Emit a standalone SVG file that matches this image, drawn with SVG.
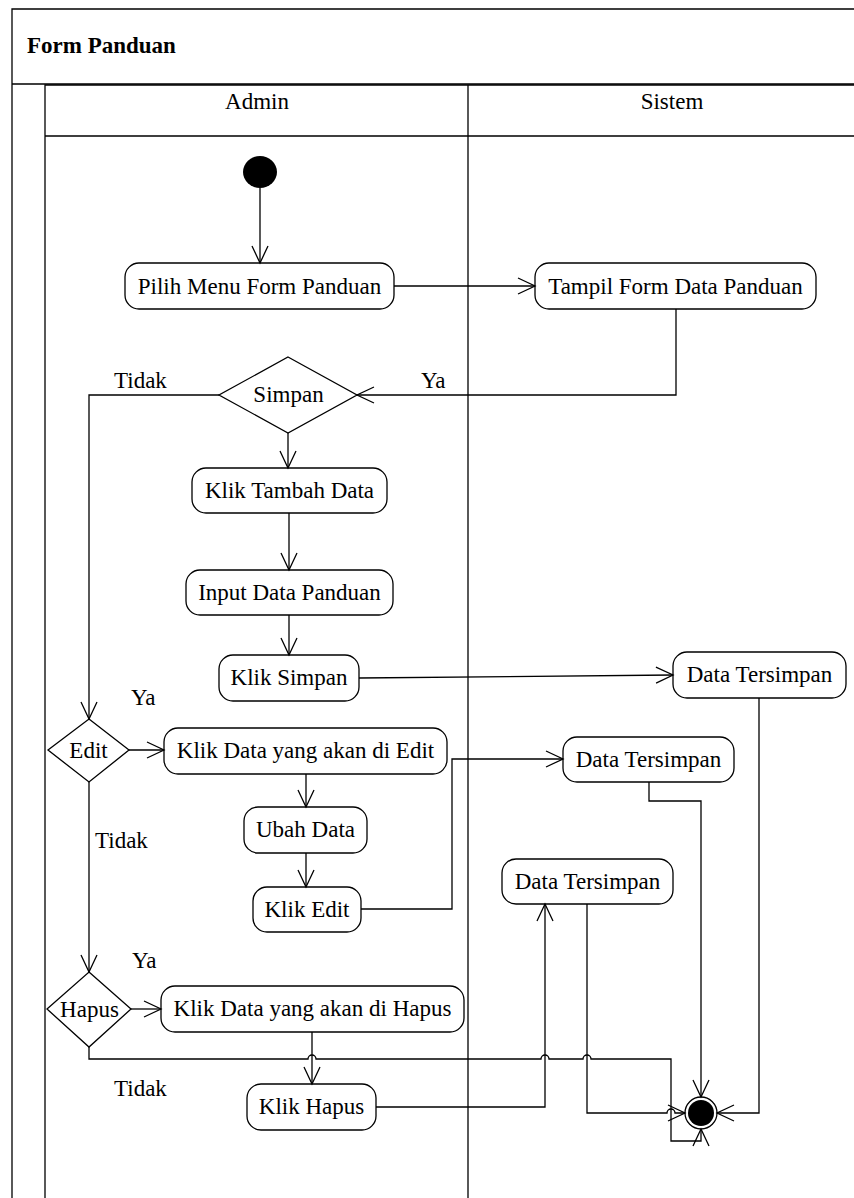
<svg xmlns="http://www.w3.org/2000/svg" width="854" height="1198" viewBox="0 0 854 1198">
<style>
  .frame{fill:none;stroke:#000;stroke-width:1.3}
  .box{fill:#fff;stroke:#000;stroke-width:1.3}
  .t{font-family:"Liberation Serif","Times New Roman",serif;font-size:23px;fill:#000}
  .c{text-anchor:middle}
  .title{font-weight:bold}
  .conn path{fill:none;stroke:#000;stroke-width:1.3}
</style>
<defs>
  <marker id="arr" viewBox="0 0 18 18" refX="17" refY="9" markerWidth="18" markerHeight="18" markerUnits="userSpaceOnUse" orient="auto" overflow="visible">
    <path d="M0,1 L17,9 L0,17" fill="none" stroke="#000" stroke-width="1.3"/>
  </marker>
</defs>
<rect width="854" height="1198" fill="#fff"/>
<g id="frame">
  <path class="frame" d="M12,1198 L12,9 L860,9 M12,84 L860,84"/>
  <path class="frame" d="M45,1198 L45,85 L860,85 M45,136 L860,136 M468,85 L468,1198"/>
  <text class="t title" x="27" y="53">Form Panduan</text>
  <text class="t c" x="257" y="109">Admin</text>
  <text class="t c" x="672" y="109">Sistem</text>
</g>
<g id="start"><ellipse cx="260" cy="172" rx="17" ry="16" fill="#000"/></g>
<g id="pilih"><rect class="box" x="125" y="263" width="269" height="46" rx="14"/><text class="t c" x="259.5" y="293.5">Pilih Menu Form Panduan</text></g>
<g id="tampil"><rect class="box" x="535" y="263" width="281" height="46" rx="14"/><text class="t c" x="675.5" y="293.5">Tampil Form Data Panduan</text></g>
<g id="simpanDec"><path class="box" d="M288,357 L357,395 L288,433 L219,395 Z"/><text class="t c" x="288.5" y="402">Simpan</text></g>
<g id="tambah"><rect class="box" x="192" y="468" width="195" height="45" rx="14"/><text class="t c" x="289.5" y="498">Klik Tambah Data</text></g>
<g id="input"><rect class="box" x="186" y="570" width="207" height="45" rx="14"/><text class="t c" x="289.5" y="600">Input Data Panduan</text></g>
<g id="klikSimpan"><rect class="box" x="219" y="655" width="140" height="46" rx="14"/><text class="t c" x="289" y="685">Klik Simpan</text></g>
<g id="dt1"><rect class="box" x="673" y="652" width="173" height="46" rx="14"/><text class="t c" x="759.5" y="682">Data Tersimpan</text></g>
<g id="editDec"><path class="box" d="M89,719 L129,750 L89,782 L48,750 Z"/><text class="t c" x="88.5" y="758">Edit</text></g>
<g id="klikDataEdit"><rect class="box" x="164" y="728" width="283" height="46" rx="14"/><text class="t c" x="305.5" y="758">Klik Data yang akan di Edit</text></g>
<g id="dt2"><rect class="box" x="563" y="737" width="171" height="45" rx="14"/><text class="t c" x="648.5" y="767">Data Tersimpan</text></g>
<g id="ubah"><rect class="box" x="244" y="807" width="123" height="46" rx="14"/><text class="t c" x="305.5" y="837">Ubah Data</text></g>
<g id="dt3"><rect class="box" x="502" y="859" width="171" height="45" rx="14"/><text class="t c" x="587.5" y="889">Data Tersimpan</text></g>
<g id="klikEdit"><rect class="box" x="253" y="887" width="108" height="45" rx="14"/><text class="t c" x="307" y="917">Klik Edit</text></g>
<g id="hapusDec"><path class="box" d="M89,972 L131,1009 L89,1047 L47,1009 Z"/><text class="t c" x="89.5" y="1016.5">Hapus</text></g>
<g id="klikDataHapus"><rect class="box" x="161" y="986" width="303" height="46" rx="14"/><text class="t c" x="312.5" y="1016">Klik Data yang akan di Hapus</text></g>
<g id="klikHapus"><rect class="box" x="247" y="1084" width="129" height="46" rx="14"/><text class="t c" x="311.5" y="1114">Klik Hapus</text></g>
<g id="end"><circle cx="701" cy="1113" r="16" fill="#fff" stroke="#000" stroke-width="1.3"/><circle cx="701" cy="1113" r="13" fill="#000"/></g>
<g id="labels">
  <text class="t" x="114" y="388">Tidak</text>
  <text class="t" x="421" y="388">Ya</text>
  <text class="t" x="131" y="705">Ya</text>
  <text class="t" x="95" y="848">Tidak</text>
  <text class="t" x="132" y="968">Ya</text>
  <text class="t" x="114" y="1096">Tidak</text>
</g>
<g id="connectors" class="conn">
  <path d="M260,188 L260,263" marker-end="url(#arr)"/>
  <path d="M394,286 L535,286" marker-end="url(#arr)"/>
  <path d="M676,309 L676,395 L357,395" marker-end="url(#arr)"/>
  <path d="M219,395 L89,395 L89,719" marker-end="url(#arr)"/>
  <path d="M288,433 L288,468" marker-end="url(#arr)"/>
  <path d="M289,513 L289,570" marker-end="url(#arr)"/>
  <path d="M289,615 L289,655" marker-end="url(#arr)"/>
  <path d="M359,678 L673,675" marker-end="url(#arr)"/>
  <path d="M129,750 L164,750" marker-end="url(#arr)"/>
  <path d="M306,774 L306,807" marker-end="url(#arr)"/>
  <path d="M306,853 L306,887" marker-end="url(#arr)"/>
  <path d="M361,909 L452,909 L452,759 L563,759" marker-end="url(#arr)"/>
  <path d="M89,782 L89,972" marker-end="url(#arr)"/>
  <path d="M131,1009 L161,1009" marker-end="url(#arr)"/>
  <path d="M312,1032 L312,1084" marker-end="url(#arr)"/>
  <path d="M376,1107 L545,1107 L545,904" marker-end="url(#arr)"/>
  <path d="M89,1047 L89,1059 L308,1059 A4,4 0 0 1 316,1059 L541,1059 A4,4 0 0 1 549,1059 L583,1059 A4,4 0 0 1 591,1059 L671,1059 L671,1141 L701,1141 L701,1129" marker-end="url(#arr)"/>
  <path d="M587,904 L587,1113 L667,1113 A4,4 0 0 1 675,1113 L685,1113" marker-end="url(#arr)"/>
  <path d="M649,782 L649,801 L701,801 L701,1097" marker-end="url(#arr)"/>
  <path d="M759,698 L759,1113 L717,1113" marker-end="url(#arr)"/>
</g>
</svg>
